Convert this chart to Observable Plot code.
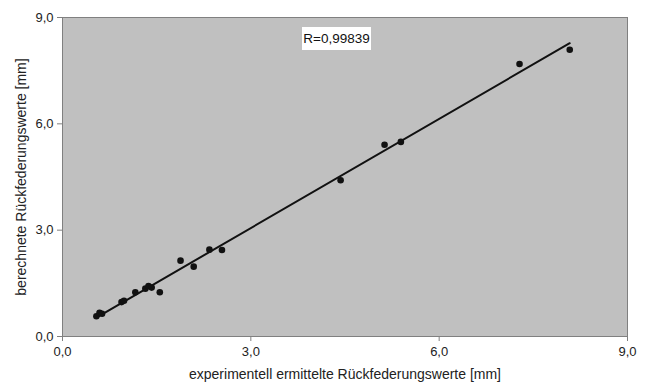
<!DOCTYPE html>
<html>
<head>
<meta charset="utf-8">
<script src="https://cdn.jsdelivr.net/npm/d3@7"></script>
<script src="https://cdn.jsdelivr.net/npm/@observablehq/plot@0.6"></script>
<style>
  body { margin: 0; background: #fff; }
  #wrap { position: relative; width: 646px; height: 383px; }
  #rlabel { position: absolute; left: 302px; top: 27px; width: 69px; height: 23px; background: #fff;
    font: 13.5px "Liberation Sans", Arial, sans-serif; color: #111; line-height: 23px; text-align: center; }
</style>
</head>
<body>
<div id="wrap"></div>
<script>
const experimentell = [0.54,0.59,0.63,0.94,0.98,1.16,1.32,1.37,1.42,1.55,1.88,2.09,2.34,2.54,4.43,5.13,5.39,7.28,8.08];
const berechnet     = [0.57,0.67,0.64,0.97,1.01,1.25,1.35,1.42,1.38,1.25,2.14,1.97,2.45,2.44,4.41,5.41,5.49,7.69,8.09];
const tickValues = [0, 3, 6, 9];
const xTitle = "experimentell ermittelte Rückfederungswerte [mm]";
const yTitle = "berechnete Rückfederungswerte [mm]";
const rText = "R=0,99839";

const data = experimentell.map((x, i) => ({x, y: berechnet[i]}));
const fmt = d => d.toFixed(1).replace(".", ",");

const chart = Plot.plot({
  width: 646,
  height: 383,
  marginLeft: 62,
  marginRight: 19,
  marginTop: 17,
  marginBottom: 47,
  style: {fontFamily: "'Liberation Sans', Arial, sans-serif", fontSize: "13px", color: "#222", background: "#fff"},
  x: {domain: [0, 9]},
  y: {domain: [0, 9]},
  marks: [
    Plot.frame({fill: "#c0c0c0", stroke: "#808080"}),
    Plot.axisX({ticks: tickValues, tickFormat: fmt, tickSize: 5, tickPadding: 5, stroke: "#808080",
      label: null, fontSize: 13}),
    Plot.axisX({ticks: [], label: xTitle, labelAnchor: "center", labelArrow: "none", labelOffset: 42, fontSize: 14, tickSize: 0}),
    Plot.axisY({ticks: tickValues, tickFormat: fmt, tickSize: 5, tickPadding: 4, stroke: "#808080",
      label: null, fontSize: 13}),
    Plot.axisY({ticks: [], label: yTitle, labelAnchor: "center", labelArrow: "none", labelOffset: 46, fontSize: 14, tickSize: 0}),
    Plot.linearRegressionY(data, {x: "x", y: "y", ci: 0, stroke: "#111", strokeWidth: 2}),
    Plot.dot(data, {x: "x", y: "y", r: 3.3, fill: "#111", stroke: "none"})
  ]
});
const wrap = document.getElementById("wrap");
wrap.appendChild(chart);
const lbl = document.createElement("div");
lbl.id = "rlabel";
lbl.textContent = rText;
wrap.appendChild(lbl);
</script>
</body>
</html>
